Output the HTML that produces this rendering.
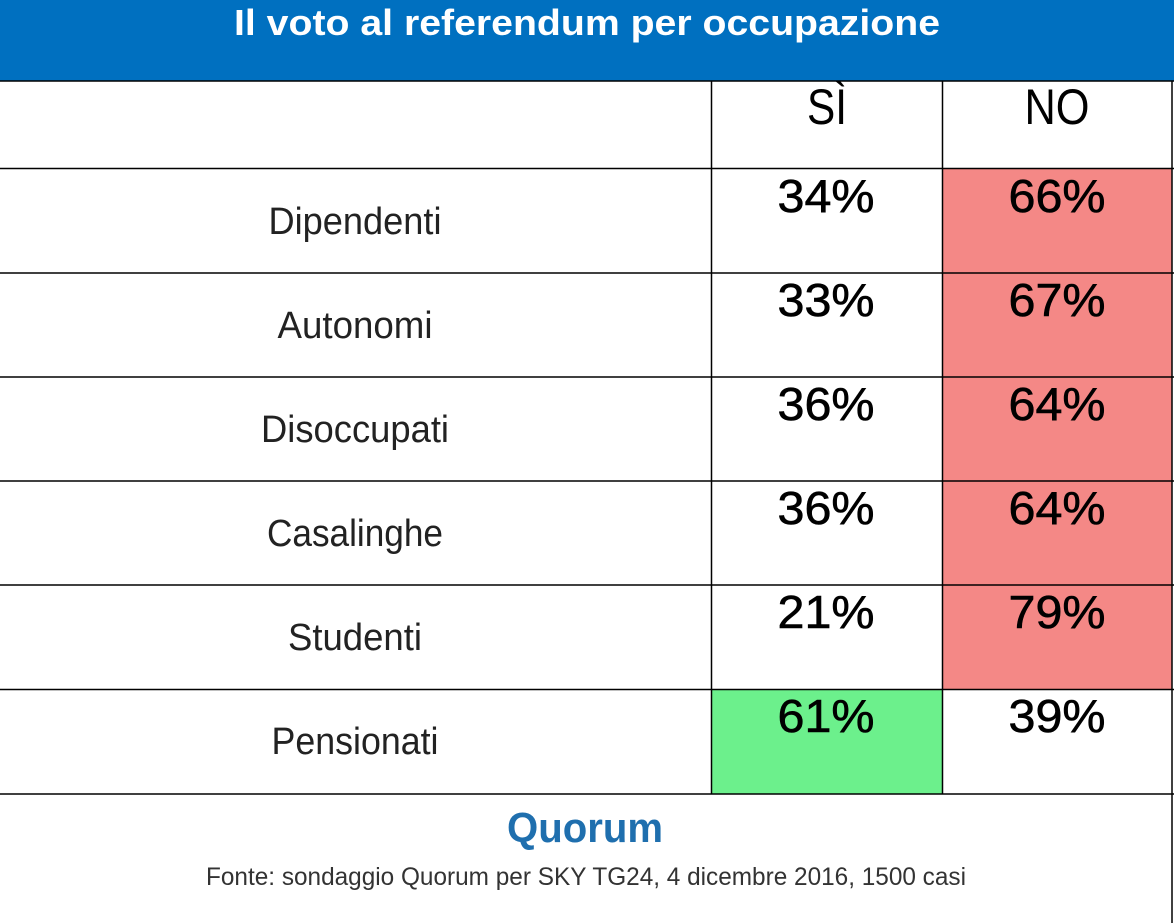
<!DOCTYPE html>
<html><head><meta charset="utf-8"><style>
html,body{margin:0;padding:0;background:#fff;width:1174px;height:923px;overflow:hidden}
svg{display:block}
</style></head><body>
<svg width="1174" height="923" viewBox="0 0 1174 923" xmlns="http://www.w3.org/2000/svg" font-family="'Liberation Sans Narrow','Liberation Sans',sans-serif">
<rect x="0" y="0" width="1174" height="923" fill="#fff"/>
<rect x="0" y="0" width="1174" height="81" fill="#0070C0"/>
<text x="587" y="35" text-anchor="middle" font-size="36" font-weight="bold" fill="#fff" textLength="706" lengthAdjust="spacingAndGlyphs">Il voto al referendum per occupazione</text>
<rect x="943" y="169" width="229" height="520" fill="#F48886"/>
<rect x="712" y="690" width="230" height="104" fill="#6CF08C"/>
<g stroke="#000" stroke-width="1.5">
<line x1="0" y1="81" x2="1174" y2="81"/>
<line x1="0" y1="168.5" x2="1174" y2="168.5"/>
<line x1="0" y1="273" x2="1174" y2="273"/>
<line x1="0" y1="377" x2="1174" y2="377"/>
<line x1="0" y1="481" x2="1174" y2="481"/>
<line x1="0" y1="585" x2="1174" y2="585"/>
<line x1="0" y1="689.5" x2="1174" y2="689.5"/>
<line x1="0" y1="794" x2="1174" y2="794"/>
<line x1="711.5" y1="81" x2="711.5" y2="794"/>
<line x1="942.5" y1="81" x2="942.5" y2="794"/>
<line x1="1172" y1="81" x2="1172" y2="923"/>
</g>
<g font-size="50" fill="#000" text-anchor="middle">
<text x="827" y="124" textLength="40" lengthAdjust="spacingAndGlyphs">SÌ</text>
<text x="1057" y="124" textLength="65" lengthAdjust="spacingAndGlyphs">NO</text>
</g>
<g font-family="'Liberation Sans',sans-serif" font-size="46" fill="#000" text-anchor="middle" stroke="#000" stroke-width="0.6">
<text x="826" y="212" textLength="97" lengthAdjust="spacingAndGlyphs">34%</text>
<text x="1057" y="212" textLength="97" lengthAdjust="spacingAndGlyphs">66%</text>
<text x="826" y="316" textLength="97" lengthAdjust="spacingAndGlyphs">33%</text>
<text x="1057" y="316" textLength="97" lengthAdjust="spacingAndGlyphs">67%</text>
<text x="826" y="420" textLength="97" lengthAdjust="spacingAndGlyphs">36%</text>
<text x="1057" y="420" textLength="97" lengthAdjust="spacingAndGlyphs">64%</text>
<text x="826" y="524" textLength="97" lengthAdjust="spacingAndGlyphs">36%</text>
<text x="1057" y="524" textLength="97" lengthAdjust="spacingAndGlyphs">64%</text>
<text x="826" y="628" textLength="97" lengthAdjust="spacingAndGlyphs">21%</text>
<text x="1057" y="628" textLength="97" lengthAdjust="spacingAndGlyphs">79%</text>
<text x="826" y="732" textLength="97" lengthAdjust="spacingAndGlyphs">61%</text>
<text x="1057" y="732" textLength="97" lengthAdjust="spacingAndGlyphs">39%</text>
</g>
<g font-size="38" fill="#222" text-anchor="middle">
<text x="355" y="234" textLength="173" lengthAdjust="spacingAndGlyphs">Dipendenti</text>
<text x="355" y="338" textLength="155" lengthAdjust="spacingAndGlyphs">Autonomi</text>
<text x="355" y="442" textLength="188" lengthAdjust="spacingAndGlyphs">Disoccupati</text>
<text x="355" y="546" textLength="176" lengthAdjust="spacingAndGlyphs">Casalinghe</text>
<text x="355" y="650" textLength="134" lengthAdjust="spacingAndGlyphs">Studenti</text>
<text x="355" y="754" textLength="167" lengthAdjust="spacingAndGlyphs">Pensionati</text>
</g>
<text x="585" y="842" text-anchor="middle" font-family="'Liberation Sans',sans-serif" font-size="42" font-weight="bold" fill="#1F6FAE" textLength="156" lengthAdjust="spacingAndGlyphs">Quorum</text>
<text x="586" y="885" text-anchor="middle" font-size="25" fill="#333" textLength="760" lengthAdjust="spacingAndGlyphs">Fonte: sondaggio Quorum per SKY TG24, 4 dicembre 2016, 1500 casi</text>
</svg>
</body></html>
